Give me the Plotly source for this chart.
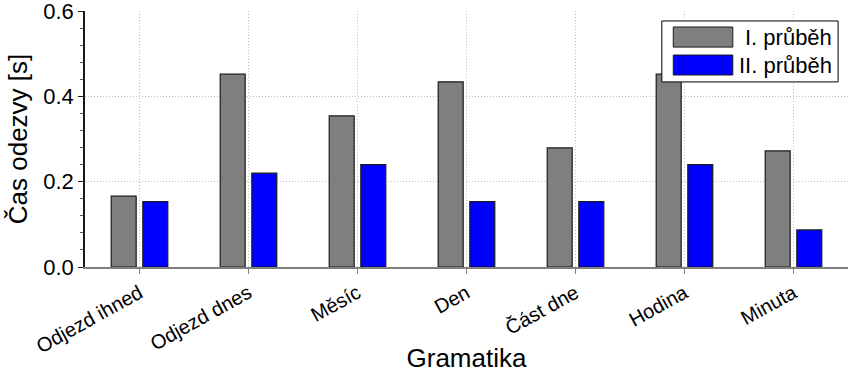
import plotly.graph_objects as go

categories = ["Odjezd ihned", "Odjezd dnes", "Měsíc", "Den", "Část dne", "Hodina", "Minuta"]
run1 = [0.166, 0.452, 0.354, 0.434, 0.279, 0.452, 0.272]
run2 = [0.153, 0.220, 0.240, 0.153, 0.153, 0.240, 0.087]
series_names = ["I. průběh", "II. průběh"]
series_colors = ["#7f7f7f", "#0000ff"]

FONT = "Liberation Sans, Arial, sans-serif"

fig = go.Figure()
for name, vals, col in zip(series_names, [run1, run2], series_colors):
    fig.add_trace(go.Bar(x=categories, y=vals, name=name,
                         marker=dict(color=col, line=dict(color="#1a1a1a", width=1.2))))

fig.update_layout(
    width=856, height=373,
    margin=dict(l=85, r=8, t=11, b=106),
    plot_bgcolor="white", paper_bgcolor="white",
    barmode="group", bargap=0.42, bargroupgap=0.21,
    font=dict(family=FONT, color="black"),
    showlegend=False,
)

# legend drawn as a box with swatches and text
shapes = [dict(type="rect", xref="paper", yref="paper", x0=0.756, x1=0.987, y0=0.723, y1=0.961,
               line=dict(color="black", width=1), fillcolor="white", layer="above")]
rows = [(0.9375, 0.859, 0.898), (0.828, 0.75, 0.789)]
annotations = []
for (ya, yb, yc), name, col in zip(rows, series_names, series_colors):
    shapes.append(dict(type="rect", xref="paper", yref="paper", x0=0.771, x1=0.849, y0=yb, y1=ya,
                       line=dict(color="#1a1a1a", width=1), fillcolor=col, layer="above"))
    annotations.append(dict(text=name, xref="paper", yref="paper", x=0.982, y=yc,
                            xanchor="right", yanchor="middle", showarrow=False,
                            font=dict(size=22, family=FONT, color="black")))
fig.update_layout(shapes=shapes, annotations=annotations)

fig.update_xaxes(
    showline=True, linecolor="#808080", linewidth=1.5,
    ticks="outside", ticklen=5, tickcolor="#808080",
    tickangle=-29, tickfont=dict(size=20, family=FONT),
    showgrid=True, gridcolor="#c0c0c0", griddash="1px,2px", gridwidth=1,
    title=dict(text="Gramatika", font=dict(size=26, family=FONT), standoff=6),
    range=[-0.5, 6.5], automargin=False,
)
fig.update_yaxes(
    range=[0, 0.6], dtick=0.2, tickformat=".1f",
    showline=True, linecolor="#1a1a1a", linewidth=1.5,
    ticks="outside", ticklen=5, tickcolor="#1a1a1a",
    tickfont=dict(size=22, family=FONT), ticklabeloverflow="allow",
    minor=dict(dtick=0.04, ticks="outside", ticklen=3, tickcolor="#555555", showgrid=False),
    showgrid=True, gridcolor="#c0c0c0", griddash="1px,2px", gridwidth=1,
    zeroline=False, automargin=False,
    title=dict(text="Čas odezvy [s]", font=dict(size=26, family=FONT), standoff=8),
)

fig.write_html("out.html", config={"displayModeBar": False},
               post_script="document.body.style.margin='0';")
